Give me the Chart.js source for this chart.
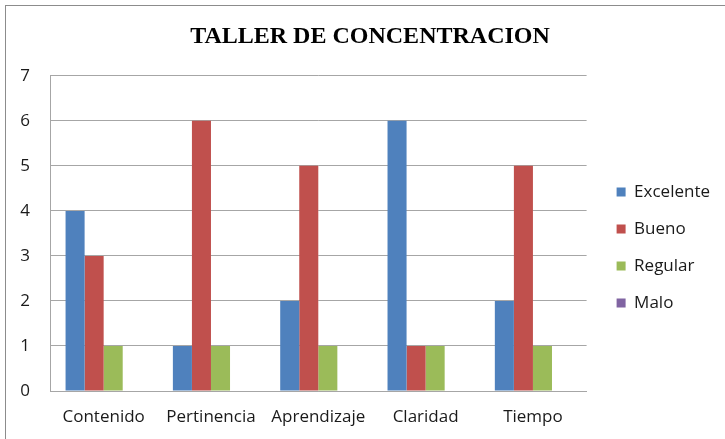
<!DOCTYPE html>
<html>
<head>
<meta charset="utf-8">
<script src="https://cdn.jsdelivr.net/npm/chart.js@4/dist/chart.umd.min.js"></script>
<style>
  html, body { margin: 0; padding: 0; background: #fff; overflow: hidden; }
  #wrap { position: relative; width: 725px; height: 439px; }
  #frame { position: absolute; left: 5px; top: 5px; width: 760px; height: 480px; border: 1px solid #8c8c8c; box-sizing: border-box; }
  canvas { position: absolute; left: 0; top: 0; }
</style>
</head>
<body>
<div id="wrap">
  <div id="frame"></div>
  <canvas id="chart" width="725" height="439"></canvas>
</div>
<script>
const categorias = ["Contenido", "Pertinencia", "Aprendizaje", "Claridad", "Tiempo"];
const excelente = [4, 1, 2, 6, 2];
const bueno = [3, 6, 5, 1, 5];
const regular = [1, 1, 1, 1, 1];
const malo = [0, 0, 0, 0, 0];
const yTicks = [0, 1, 2, 3, 4, 5, 6, 7];

const labelFont = { family: "'Open Sans', 'Noto Sans', sans-serif", size: 17 };

// nudge the legend and title to where the original sits
const legendNudge = {
    id: 'legendNudge',
    afterLayout(chart) {
        const lg = chart.legend;
        lg.left += 10; lg.right += 10;
        lg.top += 27; lg.bottom += 27;
        const t = chart.titleBlock;
        t.left += 5; t.right += 5;
    }
};

let ctx = document.getElementById('chart').getContext('2d');

new Chart(ctx, {
    type: 'bar',
    data: {
        labels: categorias,
        datasets: [
            { label: "Excelente", data: excelente, backgroundColor: '#4f81bd' },
            { label: "Bueno", data: bueno, backgroundColor: '#c0504d' },
            { label: "Regular", data: regular, backgroundColor: '#9bbb59' },
            { label: "Malo", data: malo, backgroundColor: '#8064a2' }
        ]
    },
    plugins: [legendNudge],
    options: {
        responsive: false,
        animation: false,
        layout: { padding: { left: 20, right: 15, top: 14, bottom: 12 } },
        datasets: {
            bar: { categoryPercentage: 0.71, barPercentage: 1.0, borderWidth: 0 }
        },
        scales: {
            x: {
                afterFit: (axis) => { axis.height = 36; },
                grid: { display: false, drawTicks: false },
                border: { color: '#a6a6a6', width: 1 },
                ticks: { color: '#1a1a1a', font: labelFont, padding: 16 }
            },
            y: {
                min: 0,
                max: 7,
                afterFit: (axis) => { axis.width = 30; },
                afterBuildTicks: (axis) => { axis.ticks = yTicks.map(v => ({ value: v })); },
                grid: { color: '#a6a6a6', drawTicks: false },
                border: { color: '#a6a6a6', width: 1 },
                ticks: { color: '#1a1a1a', font: labelFont, padding: 20 }
            }
        },
        plugins: {
            title: {
                display: true,
                text: "TALLER DE CONCENTRACION",
                font: { family: "'Liberation Serif', 'Times New Roman', serif", size: 24, weight: 'bold' },
                color: '#000',
                padding: { top: 8, bottom: 25 }
            },
            legend: {
                position: 'right',
                labels: {
                    color: '#1a1a1a',
                    font: labelFont,
                    boxWidth: 9,
                    boxHeight: 9,
                    padding: 20
                }
            },
            tooltip: { enabled: false }
        }
    }
});
</script>
</body>
</html>
